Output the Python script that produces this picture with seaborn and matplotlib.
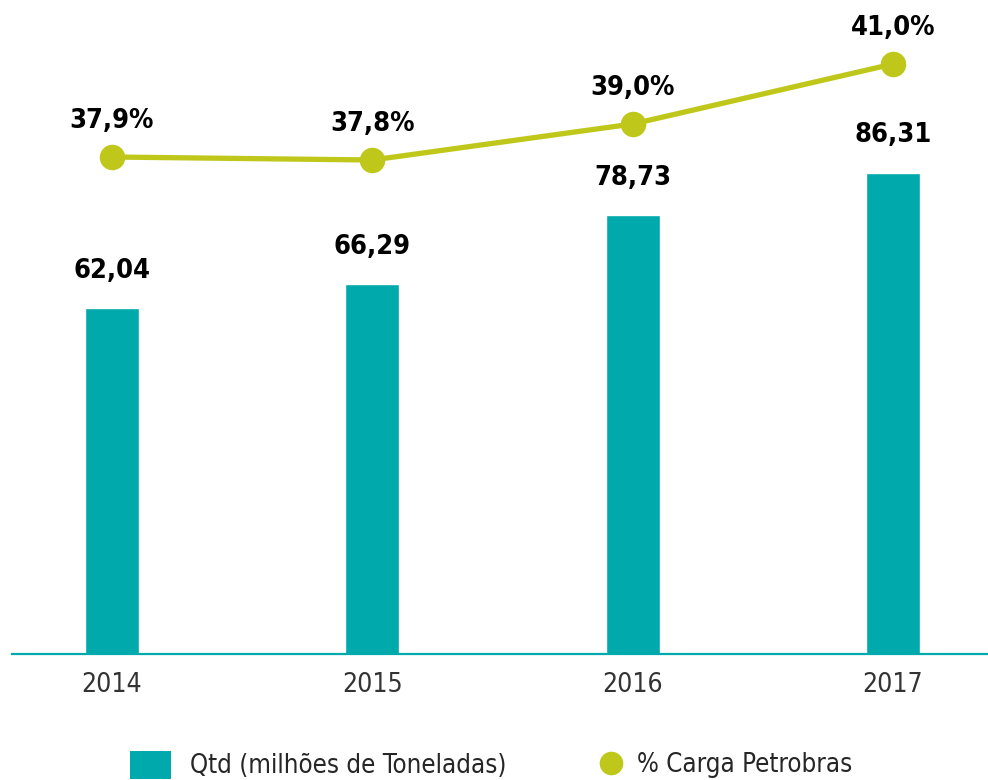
import matplotlib
matplotlib.use("Agg")
import matplotlib.pyplot as plt
import seaborn as sns
import pandas as pd
from matplotlib.patches import Patch
from matplotlib.lines import Line2D

years = ["2014", "2015", "2016", "2017"]
qtd = [62.04, 66.29, 78.73, 86.31]
pct = [37.9, 37.8, 39.0, 41.0]
legend_labels = ["Qtd (milhões de Toneladas)", "% Carga Petrobras"]

TEAL = "#00A9AC"
LIME = "#BFC81A"

sns.set_theme(style="white")
plt.rcParams["font.family"] = ["DejaVu Sans"]

df = pd.DataFrame({"year": years, "qtd": qtd, "pct": pct})

fig = plt.figure(figsize=(9.88, 7.8), dpi=100)
ax = fig.add_axes([12/988, 126/780, 976/988, 654/780])
sns.barplot(data=df, x="year", y="qtd", color=TEAL, width=0.207, ax=ax, saturation=1)
ax.set_ylim(0, 117.3)
ax.set_xlim(-0.384, 3.365)

ax2 = ax.twinx()
sns.pointplot(data=df, x="year", y="pct", color=LIME, ax=ax2,
              markersize=15.5, linewidth=3.8, marker="o")
ax2.set_ylim(39 - 530/30, 39 + 124/30)
ax2.set_xlim(-0.384, 3.365)

label_kw = dict(fontsize=19.5, fontweight="bold", color="#000000", fontstretch="condensed")
for i, v in enumerate(qtd):
    ax.annotate(f"{v:.2f}".replace(".", ","), (i, v), xytext=(0, 27), textcoords="offset points",
                ha="center", va="center", **label_kw)
for i, v in enumerate(pct):
    ax2.annotate(f"{v:.1f}%".replace(".", ","), (i, v), xytext=(0, 26), textcoords="offset points",
                 ha="center", va="center", **label_kw)

for a in (ax, ax2):
    for s in ["top", "right", "left"]:
        a.spines[s].set_visible(False)
    a.set_ylabel("")
    a.set_xlabel("")
    a.set_yticks([])
ax2.spines["bottom"].set_visible(False)
ax.spines["bottom"].set_color(TEAL)
ax.spines["bottom"].set_linewidth(1.6)
ax.tick_params(axis="x", length=0, pad=13, labelsize=19, labelcolor="#333333")
for t in ax.get_xticklabels():
    t.set_fontstretch("condensed")
    t.set_fontweight("light")

leg_prop = {"size": 18.5, "stretch": "condensed"}
fig.legend([Patch(facecolor=TEAL, edgecolor="none")], legend_labels[:1],
           loc="center left", bbox_to_anchor=(130/988, 15/780),
           frameon=False, handlelength=1.6, handleheight=1.3,
           handletextpad=0.75, borderpad=0, borderaxespad=0, prop=leg_prop)
fig.legend([Line2D([], [], color=LIME, marker="o", linestyle="none", markersize=16)],
           legend_labels[1:], loc="center left", bbox_to_anchor=(598/988, 15/780),
           frameon=False, handlelength=1.0, handletextpad=0.5,
           borderpad=0, borderaxespad=0, prop=leg_prop)

fig.savefig("out.png", dpi=100)
